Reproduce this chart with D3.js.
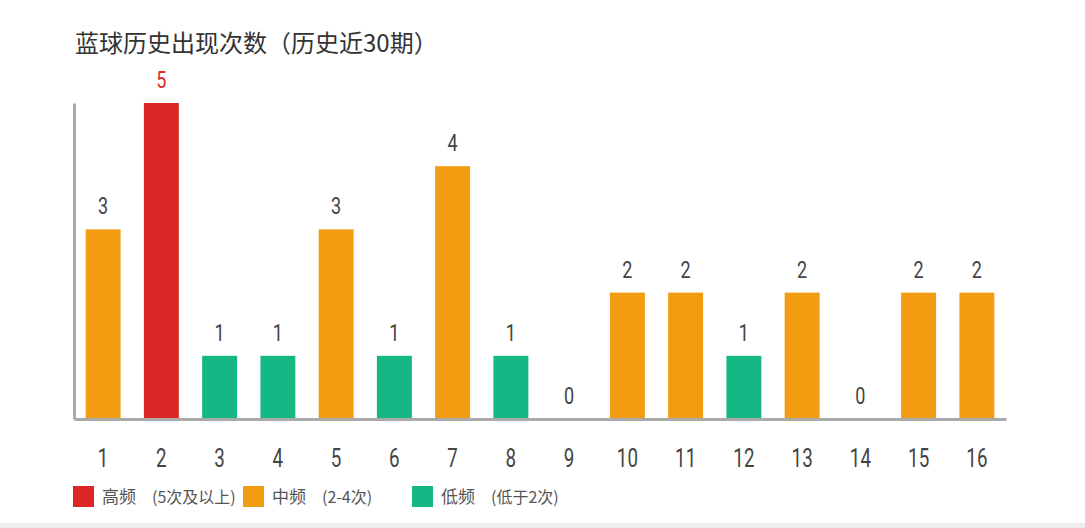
<!DOCTYPE html>
<html>
<head>
<meta charset="utf-8">
<script src="https://cdn.jsdelivr.net/npm/d3@7"></script>
<style>
  body { margin: 0; background: #fff; }
  svg { display: block; }
</style>
</head>
<body>
<div id="chart"></div>
<script>
// data
var balls = ['1', '2', '3', '4', '5', '6', '7', '8', '9', '10', '11', '12', '13', '14', '15', '16'];
var counts = [3, 5, 1, 1, 3, 1, 4, 1, 0, 2, 2, 1, 2, 0, 2, 2];
var levelNames = ['低频', '中频', '高频'];
var levelNotes = ['(低于2次)', '(2-4次)', '(5次及以上)'];
var levelBreaks = [2, 5];
var title = '蓝球历史出现次数（历史近30期）';

chart_width = 1085
chart_height = 528
var numFont = 'Roboto, "Liberation Sans", sans-serif';
var cjkFont = '"Noto Sans CJK SC", "Noto Sans", sans-serif';

var svg = d3.select('#chart')
  .append('svg')
  .attr('width', chart_width)
  .attr('height', chart_height)

// scales
var x_scale = d3.scaleBand()
  .domain(balls)
  .range([74, 1006])
  .paddingInner(0.4)
  .paddingOuter(0.2);

var y_scale = d3.scaleLinear()
  .domain([0, 5])
  .range([419, 103]);

var color = d3.scaleThreshold()
  .domain(levelBreaks)
  .range(['#15b884', '#f29c11', '#dc2727']);

// title
svg.append('text')
  .attr('x', 75)
  .attr('y', 52)
  .attr('font-family', cjkFont)
  .attr('font-size', 24)
  .attr('fill', '#333')
  .text(title);

// bars
svg.selectAll('rect.bar')
  .data(counts)
  .enter()
  .append('rect')
  .attr('class', 'bar')
  .attr('x', (d, i) => x_scale(balls[i]))
  .attr('y', d => y_scale(d))
  .attr('width', x_scale.bandwidth())
  .attr('height', d => y_scale(0) - y_scale(d))
  .attr('fill', d => color(d));

// value labels (narrow digits)
svg.selectAll('text.val')
  .data(counts)
  .enter()
  .append('text')
  .attr('class', 'val')
  .attr('transform', (d, i) => 'translate(' + (x_scale(balls[i]) + x_scale.bandwidth() / 2) + ',' + (y_scale(d) - 15) + ') scale(0.75,1)')
  .attr('text-anchor', 'middle')
  .attr('font-family', numFont)
  .attr('font-size', 24)
  .attr('fill', d => d >= levelBreaks[1] ? '#dc2727' : '#444')
  .text(d => d);

// axes
var x_axis = svg.append('g')
  .attr('transform', 'translate(0,' + y_scale(0) + ')')
  .call(d3.axisBottom(x_scale).tickSize(0).tickSizeOuter(0).tickPadding(30));

var y_axis = svg.append('g')
  .attr('transform', 'translate(74,0)')
  .call(d3.axisLeft(y_scale).tickSize(0).tickSizeOuter(0).tickValues([]));

svg.selectAll('.domain')
  .attr('stroke', '#aaa')
  .attr('stroke-width', 3);

x_axis.selectAll('text')
  .attr('font-family', numFont)
  .attr('font-size', 25)
  .attr('fill', '#444')
  .attr('transform', 'scale(0.75,1)');

// legend (high, mid, low)
var legendX = [73, 243, 412];
var legendOrder = [2, 1, 0];
var legend = svg.selectAll('g.legend')
  .data(legendOrder)
  .enter()
  .append('g')
  .attr('class', 'legend')
  .attr('transform', (d, i) => 'translate(' + legendX[i] + ',486)');

legend.append('rect')
  .attr('width', 21)
  .attr('height', 21)
  .attr('fill', d => color.range()[d]);

legend.append('text')
  .attr('x', 29)
  .attr('y', 17)
  .attr('font-family', cjkFont)
  .attr('font-size', 17)
  .attr('fill', '#555')
  .text(d => levelNames[d]);

legend.append('text')
  .attr('x', 79)
  .attr('y', 17)
  .attr('font-family', cjkFont)
  .attr('font-size', 16)
  .attr('fill', '#555')
  .text(d => levelNotes[d]);

// bottom strip
svg.append('rect')
  .attr('x', 0)
  .attr('y', 523)
  .attr('width', chart_width)
  .attr('height', 5)
  .attr('fill', '#eeeeee');
</script>
</body>
</html>
